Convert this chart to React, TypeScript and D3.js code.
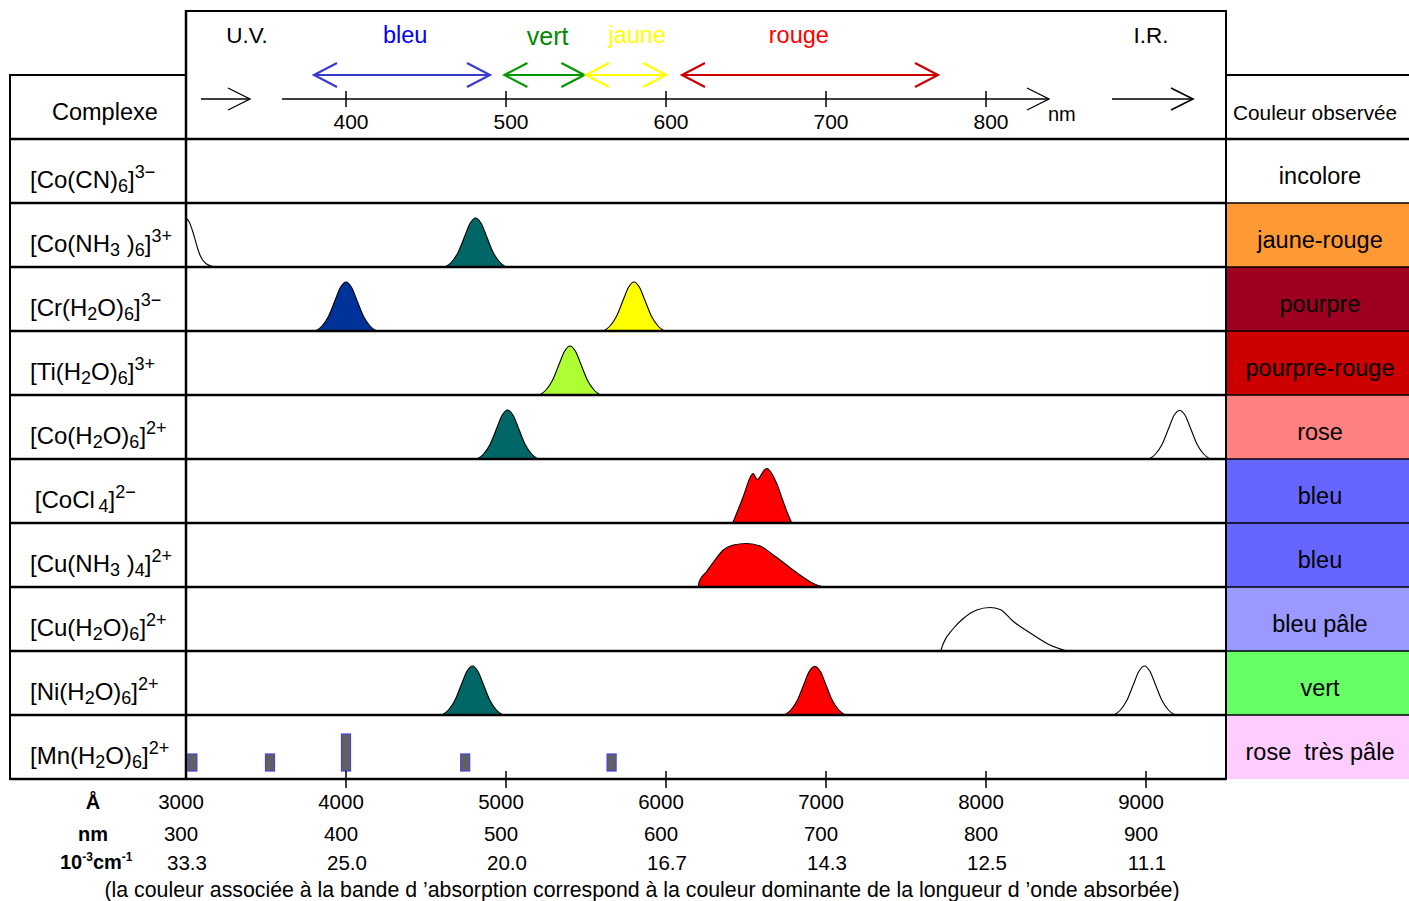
import React from 'react';
import * as d3 from 'd3';

type Kind = 'n' | 'sub' | 'sup';
type Seg = [string, Kind];

// ---------- DATA ----------
const complexes: Seg[][] = [
  [['[Co(CN)', 'n'], ['6', 'sub'], [']', 'n'], ['3−', 'sup']],
  [['[Co(NH', 'n'], ['3', 'sub'], [' )', 'n'], ['6', 'sub'], [']', 'n'], ['3+', 'sup']],
  [['[Cr(H', 'n'], ['2', 'sub'], ['O)', 'n'], ['6', 'sub'], [']', 'n'], ['3−', 'sup']],
  [['[Ti(H', 'n'], ['2', 'sub'], ['O)', 'n'], ['6', 'sub'], [']', 'n'], ['3+', 'sup']],
  [['[Co(H', 'n'], ['2', 'sub'], ['O)', 'n'], ['6', 'sub'], [']', 'n'], ['2+', 'sup']],
  [['\u2009[CoCl', 'n'], ['\u20094', 'sub'], [']', 'n'], ['2−', 'sup']],
  [['[Cu(NH', 'n'], ['3', 'sub'], [' )', 'n'], ['4', 'sub'], [']', 'n'], ['2+', 'sup']],
  [['[Cu(H', 'n'], ['2', 'sub'], ['O)', 'n'], ['6', 'sub'], [']', 'n'], ['2+', 'sup']],
  [['[Ni(H', 'n'], ['2', 'sub'], ['O)', 'n'], ['6', 'sub'], [']', 'n'], ['2+', 'sup']],
  [['[Mn(H', 'n'], ['2', 'sub'], ['O)', 'n'], ['6', 'sub'], [']', 'n'], ['2+', 'sup']],
];

const observedNames = [
  'incolore', 'jaune-rouge', 'pourpre', 'pourpre-rouge', 'rose',
  'bleu', 'bleu', 'bleu pâle', 'vert', 'rose  très pâle',
];

// spectral regions of the header (nm)
const regionNames = ['bleu', 'vert', 'jaune', 'rouge'];
const regionFrom = [380, 499, 550, 610];
const regionTo = [490, 549, 600, 770];
const regionLabelAt = [437, 526, 582, 683];

const topTicks = [400, 500, 600, 700, 800];
const angstromTicks = [3000, 4000, 5000, 6000, 7000, 8000, 9000];
const nmTicks = [300, 400, 500, 600, 700, 800, 900];
const wavenumberLabels = ['33.3', '25.0', '20.0', '16.7', '14.3', '12.5', '11.1'];

// absorption bands: row index, fill key, [nm, relative absorbance]
type Band = { row: number; tone: string; pts: [number, number][] };
const bands: Band[] = [
  { row: 1, tone: 'none', pts: [[300, 0.98], [302, 0.9], [304.5, 0.68], [307, 0.4], [309, 0.22], [312, 0.08], [318, 0]] },
  { row: 1, tone: 'teal', pts: [[462, 0], [466, 0.1], [470, 0.29], [474, 0.6], [477.5, 0.87], [481, 0.98], [484.5, 0.87], [488, 0.6], [492, 0.29], [496, 0.1], [500, 0]] },
  { row: 2, tone: 'blue', pts: [[381, 0], [385, 0.1], [389, 0.29], [393, 0.6], [396.5, 0.87], [400, 0.98], [403.5, 0.87], [407, 0.6], [411, 0.29], [415, 0.1], [419, 0]] },
  { row: 2, tone: 'yellow', pts: [[561, 0], [565, 0.1], [569, 0.29], [573, 0.6], [576.5, 0.87], [580, 0.98], [583.5, 0.87], [587, 0.6], [591, 0.29], [595, 0.1], [599, 0]] },
  { row: 3, tone: 'lime', pts: [[521, 0], [525, 0.1], [529, 0.29], [533, 0.6], [536.5, 0.87], [540, 0.98], [543.5, 0.87], [547, 0.6], [551, 0.29], [555, 0.1], [559, 0]] },
  { row: 4, tone: 'teal', pts: [[482, 0], [486, 0.1], [490, 0.29], [494, 0.6], [497.5, 0.87], [501, 0.98], [504.5, 0.87], [508, 0.6], [512, 0.29], [516, 0.1], [520, 0]] },
  { row: 4, tone: 'none', pts: [[902, 0], [906, 0.1], [910, 0.29], [914, 0.6], [917.5, 0.87], [921, 0.97], [924.5, 0.87], [928, 0.6], [932, 0.29], [936, 0.1], [940, 0]] },
  { row: 5, tone: 'red', pts: [[641.7, 0], [648.3, 0.53], [653.2, 0.95], [654.4, 0.99], [657.1, 0.87], [661.5, 1.06], [663.2, 1.09], [665, 1.04], [669.2, 0.79], [672.9, 0.46], [676.4, 0.16], [678.6, 0]] },
  { row: 6, tone: 'red', pts: [[620.2, 0], [620.8, 0.11], [625.4, 0.31], [630.6, 0.54], [635.8, 0.74], [642.1, 0.84], [650.4, 0.87], [658.8, 0.82], [667.1, 0.64], [675.4, 0.44], [683.8, 0.24], [692.1, 0.07], [698.3, 0]] },
  { row: 7, tone: 'none', pts: [[771.7, 0], [773.3, 0.15], [779.6, 0.45], [785.8, 0.65], [794.2, 0.82], [802.5, 0.87], [808.8, 0.83], [817.1, 0.59], [829.6, 0.32], [840, 0.12], [850.4, 0]] },
  { row: 8, tone: 'teal', pts: [[460, 0], [464, 0.1], [468, 0.29], [472, 0.6], [475.5, 0.87], [479, 0.98], [482.5, 0.87], [486, 0.6], [490, 0.29], [494, 0.1], [498, 0]] },
  { row: 8, tone: 'red', pts: [[674, 0], [678, 0.1], [682, 0.29], [686, 0.6], [689.5, 0.87], [693, 0.97], [696.5, 0.87], [700, 0.6], [704, 0.29], [708, 0.1], [712, 0]] },
  { row: 8, tone: 'none', pts: [[880, 0], [884, 0.1], [888, 0.29], [892, 0.6], [895.5, 0.87], [899, 0.98], [902.5, 0.87], [906, 0.6], [910, 0.29], [914, 0.1], [918, 0]] },
];

// Mn(H2O)6 2+ narrow lines: [nm, relative intensity]
const mnLines: [number, number][] = [[304, 0.34], [352.5, 0.34], [400, 0.74], [474.5, 0.34], [566, 0.34]];

// ---------- STYLES ----------
const FONT = '"Liberation Sans", Arial, sans-serif';
const toneFill: Record<string, string> = {
  none: '#ffffff', teal: '#006666', blue: '#003399', yellow: '#ffff00', lime: '#adff33', red: '#ff0000',
};
const observedFill = ['#ffffff', '#ff9933', '#9e0022', '#cc0000', '#ff8080', '#6666ff', '#6666ff', '#9999ff', '#66ff66', '#ffccff'];
const regionText = ['#0000ff', '#008800', '#ffff00', '#ff0000'];
const regionArrow = ['#3a3acc', '#009900', '#ffff00', '#cc0000'];

const W = 1409, H = 901;
const LEFT = 10, MID = 186, RIGHT = 1226;
const TOP = 11, HEAD = 75, ROW0 = 139, ROWH = 64;

function chevron(tx: number, ty: number, dir: number, L = 22, h = 11) {
  return `M${tx - dir * L},${ty - h}L${tx},${ty}L${tx - dir * L},${ty + h}`;
}

export default function App() {
  const x = d3.scaleLinear().domain([300, 900]).range([MID, 1146]);
  const xA = d3.scaleLinear().domain([3000, 9000]).range([MID, 1146]);
  const amp = d3.scaleLinear().domain([0, 1]).range([0, 50]);
  const rowTop = (i: number) => ROW0 + ROWH * i;
  const nRows = complexes.length;
  const bottom = rowTop(nRows);

  const bandPath = (b: Band) => {
    const base = rowTop(b.row) + ROWH;
    return d3.area<[number, number]>()
      .x(d => x(d[0]))
      .y0(base)
      .y1(d => base - amp(d[1]))
      .curve(d3.curveMonotoneX)(b.pts) as string;
  };

  const renderFormula = (segs: Seg[]) => {
    let shift = 0;
    return segs.map((s, k) => {
      const target = s[1] === 'sub' ? 4 : s[1] === 'sup' ? -10 : 0;
      const dy = target - shift;
      shift = target;
      return (
        <tspan key={k} dy={dy} fontSize={s[1] === 'n' ? 24 : 18}>{s[0]}</tspan>
      );
    });
  };

  return (
    <svg width={W} height={H} style={{ position: 'absolute', left: 0, top: 0, background: '#fff' }}
      fontFamily={FONT}>
      <rect x={0} y={0} width={W} height={H} fill="#fff" />

      {/* observed colour cells */}
      {observedNames.map((n, i) => (
        <rect key={'oc' + i} x={RIGHT} y={rowTop(i)} width={W - RIGHT} height={ROWH} fill={observedFill[i]} />
      ))}

      {/* header texts */}
      <text x={52} y={120} fontSize={23.5}>Complexe</text>
      <text x={1233} y={119.5} fontSize={20.8}>Couleur observée</text>
      <text x={247} y={43} fontSize={22.5} textAnchor="middle">U.V.</text>
      <text x={1151} y={43} fontSize={22.5} textAnchor="middle">I.R.</text>
      {regionNames.map((n, i) => (
        <text key={'rn' + i} x={x(regionLabelAt[i])} y={i === 1 ? 45 : 43} fontSize={i === 1 ? 25 : 23.5}
          textAnchor="middle" fill={regionText[i]}>{n}</text>
      ))}
      {regionNames.map((n, i) => (
        <g key={'ra' + i} stroke={regionArrow[i]} strokeWidth={2.2} fill="none">
          <line x1={x(regionFrom[i])} x2={x(regionTo[i])} y1={75} y2={75} />
          <path d={chevron(x(regionFrom[i]), 75, -1, 23, 12)} />
          <path d={chevron(x(regionTo[i]), 75, 1, 23, 12)} />
        </g>
      ))}

      {/* top wavelength axis */}
      <g stroke="#000" strokeWidth={1.3} fill="none">
        <line x1={201} x2={250} y1={99} y2={99} />
        <path d={chevron(250, 99, 1)} />
        <line x1={282} x2={1049} y1={99} y2={99} />
        <path d={chevron(1049, 99, 1)} />
        <line x1={1112} x2={1193} y1={99} y2={99} />
        <path d={chevron(1193, 99, 1)} strokeWidth={1.6} />
        {topTicks.map(t => (
          <line key={'tt' + t} x1={x(t)} x2={x(t)} y1={91} y2={107} strokeWidth={1.5} />
        ))}
      </g>
      {topTicks.map(t => (
        <text key={'tl' + t} x={x(t) + 5} y={129} fontSize={21} textAnchor="middle">{t}</text>
      ))}
      <text x={1048} y={121} fontSize={20}>nm</text>

      {/* absorption bands */}
      {bands.map((b, i) => (
        <path key={'b' + i} d={bandPath(b)} fill={toneFill[b.tone]} stroke="#000" strokeWidth={1.1} />
      ))}
      {mnLines.map((m, i) => {
        const base = bottom - 8;
        const hgt = amp(m[1]);
        return (
          <rect key={'mn' + i} x={x(m[0]) - 4.5} y={base - hgt} width={9} height={hgt}
            fill="#606060" stroke="#4444dd" strokeWidth={1.2} />
        );
      })}

      {/* grid lines */}
      <g stroke="#000" fill="none">
        <line x1={MID} x2={RIGHT} y1={TOP} y2={TOP} strokeWidth={2} />
        <line x1={LEFT} x2={MID} y1={HEAD} y2={HEAD} strokeWidth={2} />
        <line x1={RIGHT} x2={W} y1={HEAD} y2={HEAD} strokeWidth={2} />
        {d3.range(nRows + 1).map(i => (
          <g key={'hl' + i}>
            <line x1={LEFT} x2={RIGHT} y1={rowTop(i)} y2={rowTop(i)} strokeWidth={2.5} />
            {i < nRows && <line x1={RIGHT} x2={W} y1={rowTop(i)} y2={rowTop(i)} strokeWidth={i === 0 ? 2.5 : 1.5} />}
          </g>
        ))}
        <line x1={LEFT} x2={LEFT} y1={HEAD - 1} y2={bottom + 1} strokeWidth={2} />
        <line x1={MID} x2={MID} y1={TOP - 1} y2={bottom + 1} strokeWidth={2.5} />
        <line x1={RIGHT} x2={RIGHT} y1={TOP - 1} y2={bottom + 1} strokeWidth={2} />
        {angstromTicks.slice(1).map(t => (
          <line key={'bt' + t} x1={xA(t)} x2={xA(t)} y1={bottom - 8} y2={bottom + 9} strokeWidth={1.5} />
        ))}
      </g>

      {/* row labels */}
      {complexes.map((c, i) => (
        <text key={'cx' + i} x={30} y={rowTop(i) + 49} style={{ whiteSpace: 'pre' }}>{renderFormula(c)}</text>
      ))}
      {observedNames.map((n, i) => (
        <text key={'on' + i} x={1320} y={rowTop(i) + 45} fontSize={23.5} textAnchor="middle"
          style={{ whiteSpace: 'pre' }}>{n}</text>
      ))}

      {/* bottom scales */}
      <text x={93} y={809} fontSize={20} fontWeight="bold" textAnchor="middle">Å</text>
      <text x={93} y={841} fontSize={20} fontWeight="bold" textAnchor="middle">nm</text>
      <text x={60} y={869} fontSize={20} fontWeight="bold">
        <tspan>10</tspan>
        <tspan dy={-8} fontSize={12}>-3</tspan>
        <tspan dy={8}>cm</tspan>
        <tspan dy={-8} fontSize={12}>-1</tspan>
      </text>
      {angstromTicks.map(t => (
        <text key={'al' + t} x={xA(t) - 5} y={809} fontSize={20.5} textAnchor="middle">{t}</text>
      ))}
      {nmTicks.map(t => (
        <text key={'nl' + t} x={x(t) - 5} y={841} fontSize={20.5} textAnchor="middle">{t}</text>
      ))}
      {wavenumberLabels.map((t, i) => (
        <text key={'wl' + i} x={x(nmTicks[i]) + 1} y={870} fontSize={20.5} textAnchor="middle">{t}</text>
      ))}
      <text x={642} y={897} fontSize={21.3} textAnchor="middle">
        (la couleur associée à la bande d ’absorption correspond à la couleur dominante de la longueur d ’onde absorbée)
      </text>
    </svg>
  );
}
